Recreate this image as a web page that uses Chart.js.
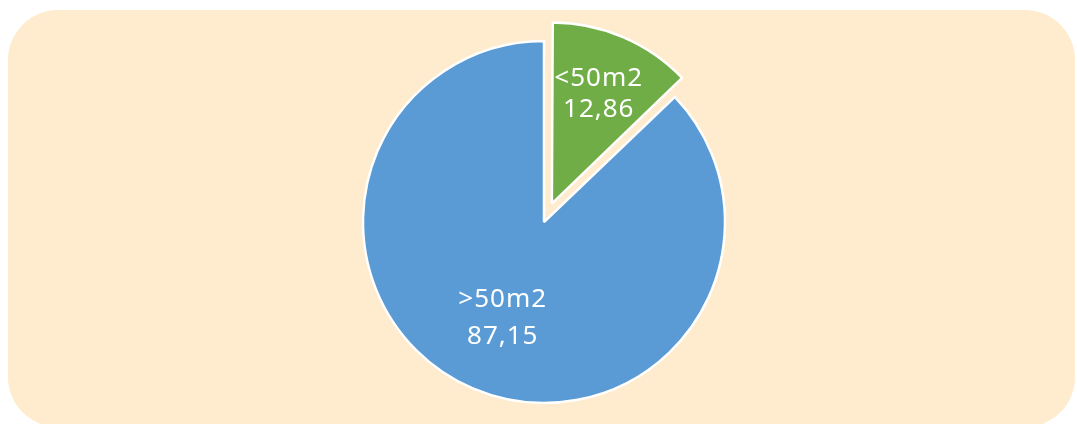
<!DOCTYPE html>
<html>
<head>
<meta charset="utf-8">
<script src="https://cdn.jsdelivr.net/npm/chart.js@4.4.0/dist/chart.umd.min.js"></script>
<style>
  html, body { margin: 0; padding: 0; background: #fff; }
  #wrap { position: relative; width: 1077px; height: 424px; overflow: hidden; }
  #card {
    position: absolute; left: 8px; top: 10px; width: 1067px; height: 417px;
    background: #FFEBCD; border-radius: 50px;
  }
  #pie { position: absolute; left: 0; top: 0; }
</style>
</head>
<body>
<div id="wrap">
  <div id="card"></div>
  <canvas id="pie" width="1077" height="424"></canvas>
</div>
<script>
// data
const labels = ['<50m2', '>50m2'];
const shares = [12.86, 87.15];
const shareText = ['12,86', '87,15'];

// styling
const sliceColors = ['#70AD47', '#5B9BD5'];
const sliceOffsets = [80, 0];      // chart.js moves the arc by offset / 4
const labelRadius = [0.68, 0.58];  // label spot as part of the radius
const labelLineGap = [31, 37];

// keep the pulled slice the same size as the other one
const keepRadius = {
    id: 'keepRadius',
    afterDatasetUpdate(chart, args) {
        args.meta.data.forEach(arc => {
            const off = (arc.options.offset || 0) / 4;
            if (!off) return;
            const circ = arc.endAngle - arc.startAngle;
            arc.outerRadius -= off * (1 - Math.sin(Math.min(Math.PI, circ)));
        });
    }
};

const sliceLabels = {
    id: 'sliceLabels',
    afterDatasetsDraw(chart) {
        const ctx = chart.ctx;
        const meta = chart.getDatasetMeta(0);
        meta.data.forEach((arc, i) => {
            const mid = (arc.startAngle + arc.endAngle) / 2;
            const off = (arc.options.offset || 0) / 4;
            const r = arc.outerRadius * labelRadius[i];
            const x = arc.x + Math.cos(mid) * (r + off);
            const y = arc.y + Math.sin(mid) * (r + off);
            ctx.save();
            ctx.fillStyle = '#fff';
            ctx.font = '26px "Noto Sans"';
            ctx.letterSpacing = '1px';
            ctx.textAlign = 'center';
            ctx.textBaseline = 'middle';
            const gap = labelLineGap[i];
            ctx.fillText(labels[i], x, y - gap / 2);
            ctx.fillText(shareText[i], x, y + gap / 2);
            ctx.restore();
        });
    }
};

new Chart(document.getElementById('pie'), {
    type: 'pie',
    data: {
        labels: labels,
        datasets: [{
            data: shares,
            backgroundColor: sliceColors,
            borderColor: '#fff',
            borderWidth: 2.5,
            offset: sliceOffsets,
            radius: 181
        }]
    },
    options: {
        responsive: false,
        animation: false,
        events: [],
        layout: { padding: { left: 11, right: 0, top: 20, bottom: 0 } },
        plugins: {
            legend: { display: false },
            tooltip: { enabled: false }
        }
    },
    plugins: [keepRadius, sliceLabels]
});
</script>
</body>
</html>
